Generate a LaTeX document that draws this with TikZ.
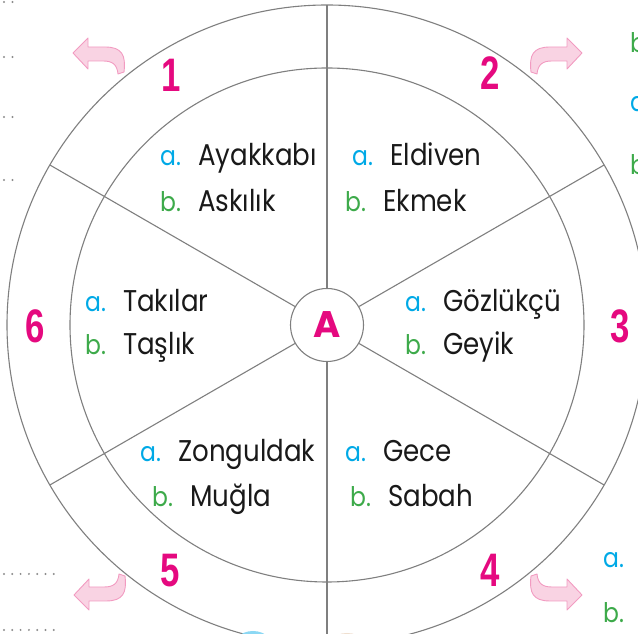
\documentclass[tikz,border=0pt]{standalone}
\usepackage{fontspec}
\setmainfont{Poppins}
\newfontfamily\wordfont{Poppins}[FakeStretch=0.87]
\newfontfamily\numfont{Liberation Sans}[FakeStretch=0.74]
\usetikzlibrary{positioning}
\definecolor{wheel}{HTML}{7F7F7F}
\definecolor{mag}{HTML}{E5097F}
\definecolor{pinkfill}{HTML}{F9D3E3}
\definecolor{pinkline}{HTML}{F29BC1}
\definecolor{opta}{HTML}{00A9E6}
\definecolor{optb}{HTML}{3DAA4A}
\definecolor{dotgray}{HTML}{8C8C8C}
\tikzset{
  ring/.style={draw=wheel, line width=1.1pt},
  la/.style={text=opta, font=\wordfont\fontsize{27}{27}\selectfont, inner sep=0pt, anchor=base west},
  lb/.style={la, text=optb},
  wd/.style={text=black!90, font=\wordfont\fontsize{30}{30}\selectfont, inner sep=0pt, anchor=base west},
  num/.style={text=mag, font=\numfont\bfseries\fontsize{47}{47}\selectfont, inner sep=0pt},
  pinkarrow/.style={fill=pinkfill, draw=pinkline, line width=0.9pt, line join=round},
}
\newcommand\bendarrow[1]{%
  \draw[pinkarrow, #1] (-3,-1) -- (3,1) .. controls (5,18) and (1,26) .. (-16,26)
    -- (-33,26) -- (-33,35) -- (-48,20) -- (-33,4) -- (-33,12) -- (-18,12)
    .. controls (-9,12) and (-4,9) .. (-3,-1) -- cycle;}

\begin{document}
\begin{tikzpicture}[x=1pt, y=1pt]
  \useasboundingbox (0,0) rectangle (638,634);
  \clip (0,0) rectangle (638,634);
  \coordinate (O) at (327,309);

  \draw[ring] (O) circle (320);
  \draw[ring] (O) circle (257);
  \node[circle, draw=wheel, line width=1.1pt, minimum size=73pt, inner sep=0pt,
        text=mag, font=\bfseries\fontsize{37}{37}\selectfont] (hub) at (O) {A};
  \foreach \a in {30,90,...,330}
    \draw[ring] (hub.\a) -- ([shift={(\a:320)}]O);

  \node[num] (n1) at (171,559) {1};
  \node[num] (n2) at (490,561) {2};
  \node[num] (n3) at (620,308) {3};
  \node[num] (n4) at (490,64) {4};
  \node[num] (n5) at (170,63) {5};
  \node[num] (n6) at (35,308) {6};

  \bendarrow{shift={(121,561)}}
  \bendarrow{shift={(534,561)}, xscale=-1}
  \bendarrow{shift={(534,59)}, xscale=-1, yscale=-1}
  \bendarrow{shift={(122,59)}, yscale=-1}

  \node[la] (l1a) at (160,468) {a.};
  \node[wd] (w1a) at (198,468) {Ayakkabı};
  \node[lb] (l1b) at (160,422) {b.};
  \node[wd] (w1b) at (198,422) {Askılık};

  \node[la] (l2a) at (352,468) {a.};
  \node[wd] (w2a) at (390,468) {Eldiven};
  \node[lb] (l2b) at (345,422) {b.};
  \node[wd] (w2b) at (383,422) {Ekmek};

  \node[la] (l3a) at (405,322) {a.};
  \node[wd] (w3a) at (443,322) {Gözlükçü};
  \node[lb] (l3b) at (405,279) {b.};
  \node[wd] (w3b) at (443,279) {Geyik};

  \node[la] (l4a) at (345,172) {a.};
  \node[wd] (w4a) at (383,172) {Gece};
  \node[lb] (l4b) at (350,127) {b.};
  \node[wd] (w4b) at (388,127) {Sabah};

  \node[la] (l5a) at (140,172) {a.};
  \node[wd] (w5a) at (178,172) {Zonguldak};
  \node[lb] (l5b) at (152,127) {b.};
  \node[wd] (w5b) at (190,127) {Muğla};

  \node[la] (l6a) at (85,322) {a.};
  \node[wd] (w6a) at (123,322) {Takılar};
  \node[lb] (l6b) at (85,279) {b.};
  \node[wd] (w6b) at (123,279) {Taşlık};

  \node[lb] (r1) at (630,581) {b};
  \node[la] (r2) at (630,522) {a};
  \node[lb] (r3) at (630,459) {b};
  \node[la] (r4) at (603,66) {a.};
  \node[lb] (r5) at (603,11) {b.};

  \foreach \y in {632,577,517,454}
    \foreach \x in {4,12.5}
      \fill[dotgray] (\x,\y) circle (1.1);
  \foreach \y in {60,4}
    \foreach \x in {4,12.3,...,60}
      \fill[dotgray] (\x,\y) circle (1.1);

  \fill[opta!45] (253,-21) circle (24);
  \fill[brown!25] (347,-24) circle (25);
\end{tikzpicture}
\end{document}
